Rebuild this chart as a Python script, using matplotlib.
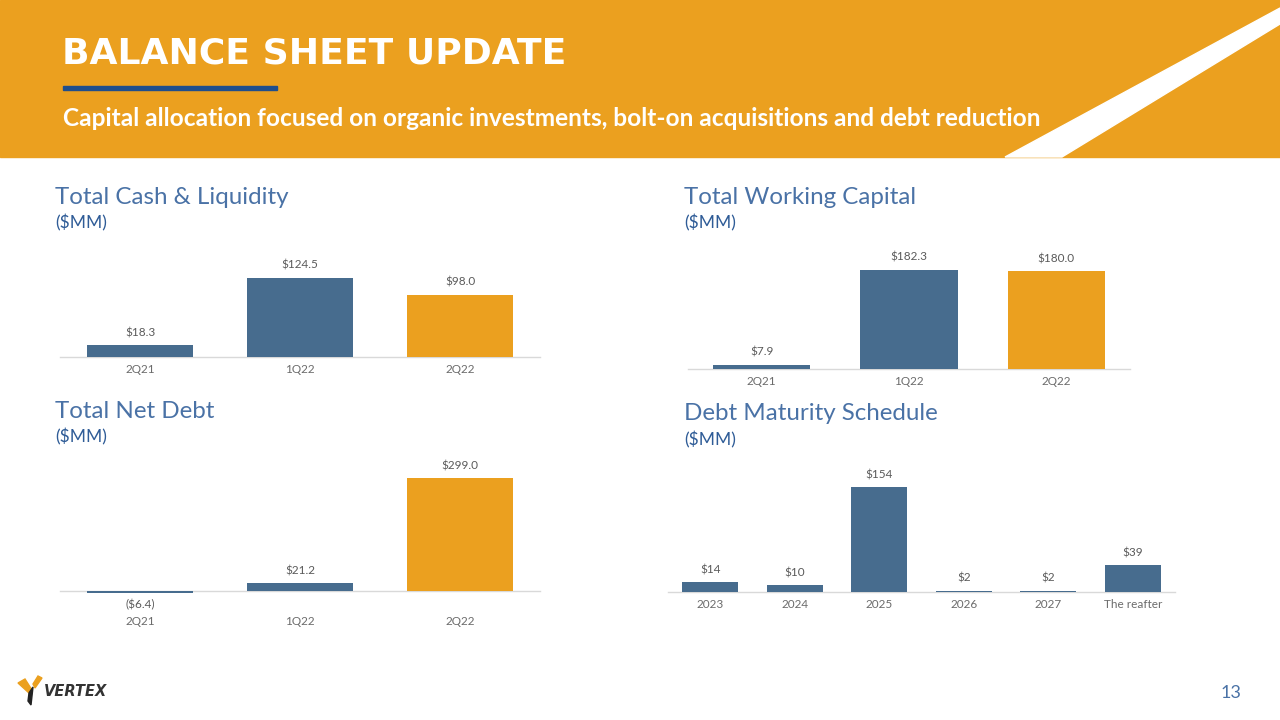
import matplotlib.pyplot as plt
from matplotlib.patches import Rectangle, Polygon

# ---- data ----
quarters = ["2Q21", "1Q22", "2Q22"]
cash_liquidity = [18.3, 124.5, 98.0]
working_capital = [7.9, 182.3, 180.0]
net_debt = [-6.4, 21.2, 299.0]
maturity_years = ["2023", "2024", "2025", "2026", "2027", "The reafter"]
maturity_amounts = [14, 10, 154, 2, 2, 39]

ORANGE = "#EBA01F"
BAR_BLUE = "#476C8E"
TITLE_BLUE = "#4A72A6"
UNIT_BLUE = "#2F5C97"
GRAY_TXT = "#6B6B6B"
W, H = 1280, 720

fig = plt.figure(figsize=(12.8, 7.2), dpi=100)
fig.patch.set_facecolor("white")


def fx(x):
    return x / W


def fy(y):
    return 1 - y / H


def px_axes(x0, y0, x1, y1):
    return fig.add_axes([fx(x0), fy(y1), (x1 - x0) / W, (y1 - y0) / H])


# header band
fig.patches.append(Rectangle((0, fy(157)), 1, 157 / H, transform=fig.transFigure,
                             color=ORANGE, zorder=0))
fig.patches.append(Polygon([(fx(1005), fy(157)), (fx(1062), fy(157)),
                            (fx(1280), fy(24)), (fx(1280), fy(8))],
                           closed=True, transform=fig.transFigure,
                           color="white", zorder=1))
fig.patches.append(Rectangle((fx(63), fy(90)), (277 - 63) / W, 4 / H,
                             transform=fig.transFigure, color="#1F4E8C", zorder=2))
fig.text(fx(62), fy(54), "BALANCE SHEET UPDATE", color="white", fontsize=26,
         fontweight="bold", family="DejaVu Sans", va="center", ha="left")
fig.text(fx(63), fy(119), "Capital allocation focused on organic investments, "
         "bolt-on acquisitions and debt reduction", color="white", fontsize=17.6,
         fontweight="bold", family="Lato", va="center", ha="left")


def panel(x0, y0, x1, y1, cats, vals, colors, ylim, title, tx, ty,
          fmt, pad=5):
    ax = px_axes(x0, y0, x1, y1)
    idx = list(range(len(cats)))
    bars = ax.bar(idx, vals, width=0.66, color=colors, zorder=2)
    for b in bars:
        b.set_clip_on(False)
    ax.set_xlim(-0.5, len(cats) - 0.5)
    ax.set_ylim(*ylim)
    for s in ["top", "right", "left"]:
        ax.spines[s].set_visible(False)
    ax.spines["bottom"].set_position(("data", 0))
    ax.spines["bottom"].set_color("#D9D9D9")
    ax.spines["bottom"].set_linewidth(1)
    ax.spines["bottom"].set_zorder(1)
    ax.set_yticks([])
    ax.set_xticks(idx)
    ax.set_xticklabels(cats, fontsize=8.5, color=GRAY_TXT, family="Lato")
    ax.tick_params(axis="x", length=0, pad=pad)
    ax.patch.set_alpha(0)
    for i, v in enumerate(vals):
        if v >= 0:
            ax.annotate(fmt(v), (i, v), xytext=(0, 5), textcoords="offset points",
                        ha="center", va="bottom", fontsize=8.5, color="#5A5A5A",
                        family="Lato", annotation_clip=False)
        else:
            ax.annotate(fmt(v), (i, v), xytext=(0, -4), textcoords="offset points",
                        ha="center", va="top", fontsize=8.5, color="#5A5A5A",
                        family="Lato", annotation_clip=False)
    fig.text(fx(tx), fy(ty), title, color=TITLE_BLUE, fontsize=17.4, family="Lato",
             va="center", ha="left")
    fig.text(fx(tx), fy(ty + 26), "($MM)", color=UNIT_BLUE, fontsize=12.5,
             family="Lato", va="center", ha="left")
    return ax


def money1(v):
    return f"${v:.1f}" if v >= 0 else f"(${-v:.1f})"


def money0(v):
    return f"${v:.0f}"


three_cols = [BAR_BLUE, BAR_BLUE, ORANGE]

panel(60, 250, 540, 357, quarters, cash_liquidity, three_cols, (0, 168.5),
      "Total Cash & Liquidity", 55, 197, money1)
panel(688, 250, 1130, 369, quarters, working_capital, three_cols, (0, 219),
      "Total Working Capital", 684, 197, money1)
panel(60, 460, 540, 591, quarters, net_debt, three_cols, (0, 346.5),
      "Total Net Debt", 55, 411, money1, pad=18)
panel(668, 460, 1175, 592, maturity_years, maturity_amounts,
      [BAR_BLUE] * len(maturity_years), (0, 194), "Debt Maturity Schedule",
      684, 414, money0)

# footer logo and page number
fig.patches.append(Polygon([(fx(18), fy(683)), (fx(25), fy(679)), (fx(32), fy(690)),
                            (fx(29), fy(693))], closed=True,
                           transform=fig.transFigure, color=ORANGE))
fig.patches.append(Polygon([(fx(33), fy(684)), (fx(38), fy(676)), (fx(42), fy(678)),
                            (fx(35), fy(688))], closed=True,
                           transform=fig.transFigure, color=ORANGE))
fig.patches.append(Polygon([(fx(29), fy(693)), (fx(33), fy(687)), (fx(31), fy(705)),
                            (fx(28), fy(701))], closed=True,
                           transform=fig.transFigure, color="#222222"))
fig.text(fx(44), fy(692), "VERTEX", color="#333333", fontsize=10.5,
         fontweight="bold", family="DejaVu Sans", style="italic",
         va="center", ha="left")
fig.text(fx(1241), fy(693), "13", color=TITLE_BLUE, fontsize=13, family="Lato",
         va="center", ha="right")

fig.savefig("out.png", dpi=100)
